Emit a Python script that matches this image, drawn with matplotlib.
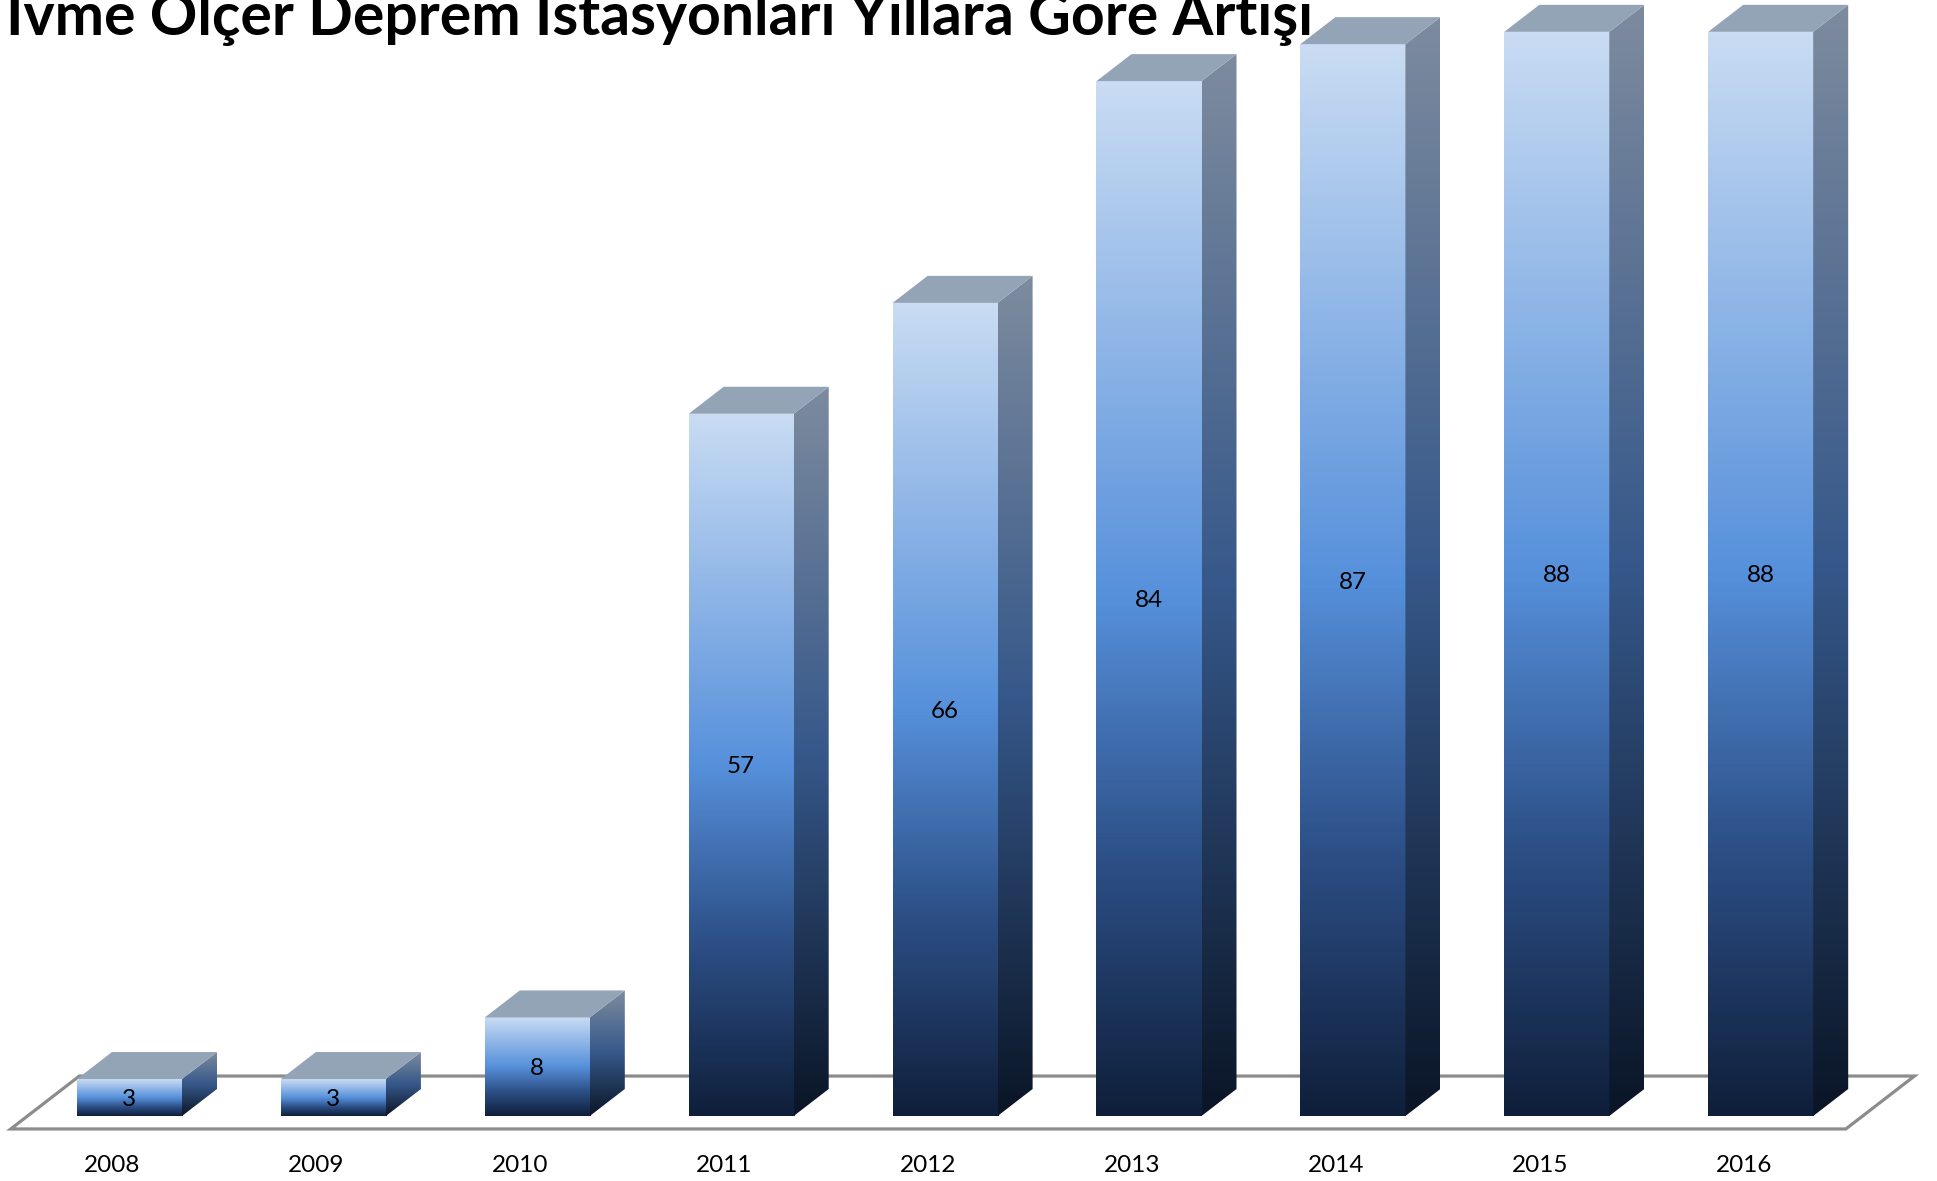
import numpy as np
import matplotlib
matplotlib.use("Agg")
import matplotlib.pyplot as plt
from matplotlib.colors import LinearSegmentedColormap
from matplotlib.patches import Polygon

plt.rcParams['font.family'] = ['Lato', 'DejaVu Sans']

"""Data"""
years = ["2008", "2009", "2010", "2011", "2012", "2013", "2014", "2015", "2016"]
stations = [3, 3, 8, 57, 66, 84, 87, 88, 88]
title = "İvme Ölçer Deprem İstasyonları Yıllara Göre Artışı"

"""Figure and axes: one axes covering the whole picture"""
W, H = 1937, 1181
fig = plt.figure(figsize=(W / 100, H / 100), dpi=100)
ax = fig.add_axes([0, 0, 1, 1])
ax.set_axis_off()

px_x = 203.9          # pixels per category
px_y = 12.32          # pixels per station
x0_px = 129.5         # centre of first bar
y0_px = 65            # value 0, from the bottom

# 3d depth of one bar, in data units
ddx = 35 / px_x
ddy = 27 / px_y
bar_w = 0.515

front_cmap = LinearSegmentedColormap.from_list(
    "front", [(0, "#c9dcf3"), (0.5, "#5690db"), (0.75, "#2d5088"), (1, "#0f1f3a")])
side_cmap = LinearSegmentedColormap.from_list(
    "side", [(0, "#7d8b9e"), (0.5, "#36588a"), (1, "#0a1526")])
top_color = "#94a4b7"
grad = np.linspace(0, 1, 256).reshape(-1, 1)

x = np.arange(len(years))

"""Floor"""
n = len(years)
d_front, d_back = -0.48, 1.48
floor = Polygon([(-0.5 + d_front * ddx, d_front * ddy),
                 (n - 0.5 + d_front * ddx, d_front * ddy),
                 (n - 0.5 + d_back * ddx, d_back * ddy),
                 (-0.5 + d_back * ddx, d_back * ddy)],
                closed=True, facecolor="white", edgecolor="#8c8c8c",
                linewidth=2.3, zorder=1)
ax.add_patch(floor)

"""Bars"""
bars = ax.bar(x, stations, width=bar_w, color="none", edgecolor="none", zorder=2)
for rect, v in zip(bars, stations):
    bx0 = rect.get_x()
    bx1 = bx0 + rect.get_width()
    # front face
    im = ax.imshow(grad, cmap=front_cmap, extent=[bx0, bx1, 0, v],
                   aspect="auto", origin="upper", zorder=3)
    im.set_clip_path(rect)
    # side face
    side = Polygon([(bx1, 0), (bx1 + ddx, ddy), (bx1 + ddx, v + ddy), (bx1, v)],
                   closed=True, facecolor="none", edgecolor="none", zorder=3)
    ax.add_patch(side)
    ims = ax.imshow(grad, cmap=side_cmap, extent=[bx1, bx1 + ddx, 0, v + ddy],
                    aspect="auto", origin="upper", zorder=3)
    ims.set_clip_path(side)
    # top face
    top = Polygon([(bx0, v), (bx1, v), (bx1 + ddx, v + ddy), (bx0 + ddx, v + ddy)],
                  closed=True, facecolor=top_color, edgecolor="none", zorder=4)
    ax.add_patch(top)
    # value label
    ax.text(rect.get_x() + rect.get_width() / 2, v / 2, str(v), ha="center",
            va="center_baseline", fontsize=17.5, color="black", zorder=5)

ax.set_xlim(-x0_px / px_x, (W - x0_px) / px_x)
ax.set_ylim(-y0_px / px_y, (H - y0_px) / px_y)

"""Year labels along the front edge of the floor"""
for xi, yr in zip(x, years):
    ax.text(xi - 17 / px_x, -(1164 - 1116) / px_y, yr, ha="center",
            va="center_baseline", fontsize=17.5, color="black")

"""Title, cut by the top edge like the original"""
t = fig.text(6 / W, 1 - 35 / H, title, ha="left", va="baseline",
             fontsize=40, fontweight="bold", color="black")
fig.canvas.draw()
w = t.get_window_extent().width
t.set_fontsize(40 * 1307 / w)

fig.savefig("out.png", dpi=100)
